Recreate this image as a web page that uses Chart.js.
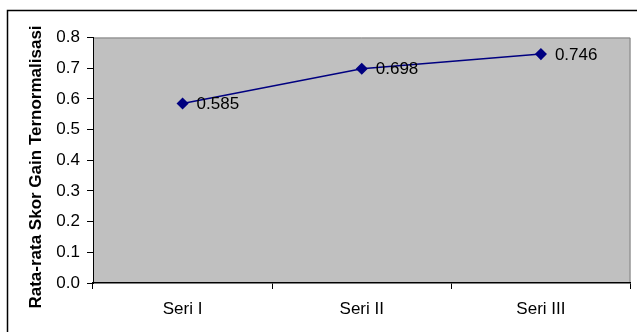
<!DOCTYPE html>
<html>
<head>
<meta charset="utf-8">
<script src="https://cdn.jsdelivr.net/npm/chart.js@4/dist/chart.umd.min.js"></script>
<style>
  html, body { margin: 0; padding: 0; background: #fff; }
  #wrap { width: 637px; height: 332px; position: relative; }
</style>
</head>
<body>
<div id="wrap"><canvas id="c" width="637" height="332"></canvas></div>
<script>
// Series and axis data
const categories = ['Seri I', 'Seri II', 'Seri III'];
const gainScores = [0.585, 0.698, 0.746];
const yAxisTitle = 'Rata-rata Skor Gain Ternormalisasi';
const yMin = 0.0;
const yMax = 0.8;
const yStep = 0.1;

const FONT = '"Liberation Sans", Arial, sans-serif';

// Grey plot background with a thin darker frame on top and right
const plotBackground = {
  id: 'plotBackground',
  beforeDraw(chart) {
    const { ctx, chartArea: a } = chart;
    ctx.save();
    ctx.fillStyle = '#c0c0c0';
    ctx.fillRect(a.left, a.top, a.right - a.left, a.bottom - a.top);
    ctx.strokeStyle = '#808080';
    ctx.lineWidth = 1;
    ctx.beginPath();
    ctx.moveTo(a.left, a.top + 0.5);
    ctx.lineTo(a.right - 0.5, a.top + 0.5);
    ctx.lineTo(a.right - 0.5, a.bottom);
    ctx.stroke();
    ctx.restore();
  }
};

// Outer frame and the rotated y-axis title
const frameAndTitle = {
  id: 'frameAndTitle',
  afterDraw(chart) {
    const { ctx } = chart;
    ctx.save();
    ctx.strokeStyle = '#000';
    ctx.lineWidth = 1.5;
    ctx.beginPath();
    ctx.moveTo(7.5, chart.height + 2);
    ctx.lineTo(7.5, 10.5);
    ctx.lineTo(chart.width + 2, 10.5);
    ctx.stroke();

    ctx.translate(36, 167);
    ctx.rotate(-Math.PI / 2);
    ctx.fillStyle = '#000';
    ctx.font = 'bold 17px ' + FONT;
    ctx.textAlign = 'center';
    ctx.textBaseline = 'middle';
    ctx.fillText(yAxisTitle, 0, 0);
    ctx.restore();
  }
};

// Value labels to the right of each marker
const valueLabels = {
  id: 'valueLabels',
  afterDatasetsDraw(chart) {
    const { ctx } = chart;
    const meta = chart.getDatasetMeta(0);
    const data = chart.data.datasets[0].data;
    ctx.save();
    ctx.fillStyle = '#000';
    ctx.font = '17px ' + FONT;
    ctx.textAlign = 'left';
    ctx.textBaseline = 'middle';
    meta.data.forEach((pt, i) => {
      ctx.fillText(String(data[i]), pt.x + 14, pt.y + 1);
    });
    ctx.restore();
  }
};

new Chart(document.getElementById('c'), {
  type: 'line',
  data: {
    labels: categories,
    datasets: [{
      data: gainScores,
      borderColor: '#000080',
      backgroundColor: '#000080',
      borderWidth: 1.5,
      pointStyle: 'rectRot',
      pointRadius: 5,
      pointHoverRadius: 5,
      pointBackgroundColor: '#000080',
      pointBorderColor: '#000080',
      tension: 0,
      fill: false
    }]
  },
  options: {
    responsive: false,
    animation: false,
    events: [],
    layout: { padding: { left: 0, top: 37.5, right: 1, bottom: 0 } },
    plugins: {
      legend: { display: false },
      tooltip: { enabled: false }
    },
    scales: {
      x: {
        type: 'category',
        offset: true,
        afterFit(scale) { scale.height = 49; },
        border: { display: true, color: '#000', width: 1.5 },
        grid: {
          offset: true,
          drawOnChartArea: false,
          drawTicks: true,
          tickLength: 6,
          color: '#000'
        },
        ticks: {
          color: '#000',
          font: { family: FONT, size: 17 },
          padding: 10,
          maxRotation: 0
        }
      },
      y: {
        min: yMin,
        max: yMax,
        afterFit(scale) { scale.width = 93; },
        border: { display: true, color: '#000', width: 1 },
        grid: {
          drawOnChartArea: false,
          drawTicks: true,
          tickLength: 6,
          color: '#000'
        },
        ticks: {
          stepSize: yStep,
          color: '#000',
          font: { family: FONT, size: 17 },
          padding: 7,
          callback: (v) => Number(v).toFixed(1)
        }
      }
    }
  },
  plugins: [plotBackground, valueLabels, frameAndTitle]
});
</script>
</body>
</html>
